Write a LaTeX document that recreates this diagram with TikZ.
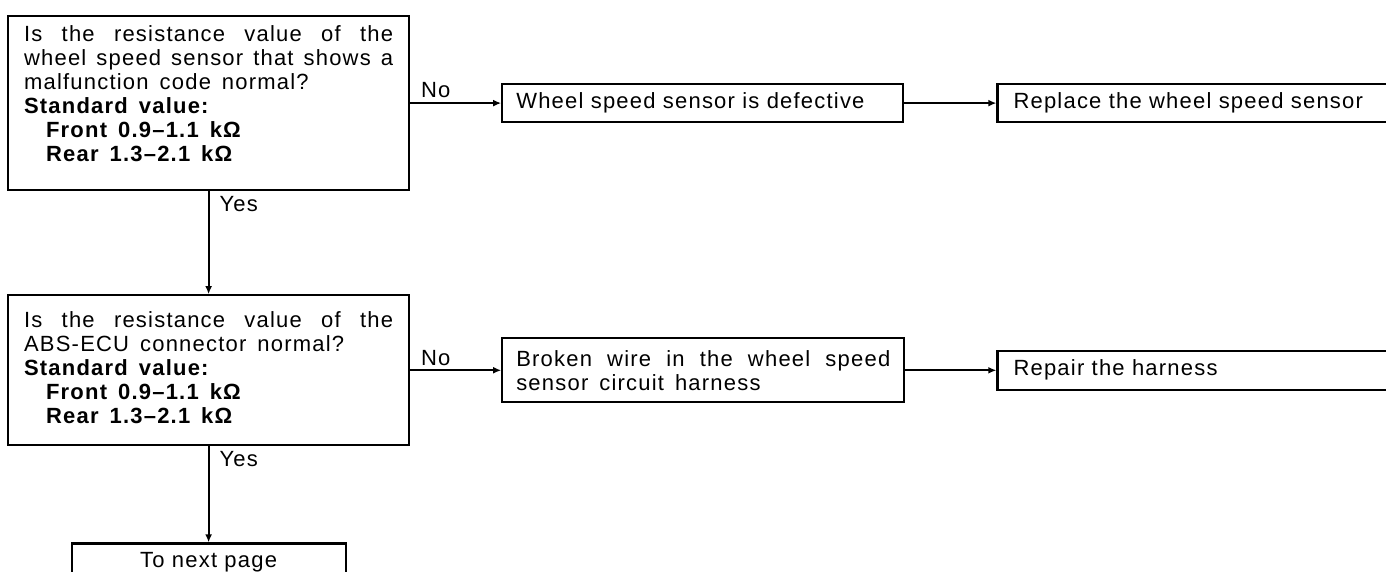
\documentclass[tikz,border=0pt]{standalone}
\usepackage{fontspec}
\setmainfont{Liberation Sans}[LetterSpace=5.5, WordSpace=1.5]
\usetikzlibrary{arrows.meta, positioning}

\begin{document}
\begin{tikzpicture}[
  node distance=51.5pt and 45.5pt,
  every node/.style={font=\fontsize{11}{12}\selectfont, inner sep=2pt},
  chartbox/.style={draw, line width=1.1pt, inner xsep=7pt, inner ysep=0pt},
  arr/.style={-{Latex[length=4pt,width=3.4pt]}, line width=0.9pt},
  lbl/.style={inner sep=2pt}
]
\useasboundingbox (0,0) rectangle (693pt,-286pt);
\clip (0,0) rectangle (693pt,-286pt);

\node (q1) [chartbox, anchor=north west, minimum height=87pt, text width=184.5pt,
  inner xsep=8pt, align=justify] at (3.5pt,-7.5pt)
  {\noindent Is the resistance value of the\linebreak
   wheel speed sensor that shows a\linebreak
   malfunction code normal?\\
   \textbf{Standard value:}\\
   \textbf{\hspace*{1em}Front 0.9–1.1 kΩ}\\
   \textbf{\hspace*{1em}Rear 1.3–2.1 kΩ}\par\kern9pt};
\node (fault1) [chartbox, right=of q1, minimum height=19pt, text width=186.5pt,
  align=left] {Wheel speed sensor is defective};
\node (fix1) [chartbox, right=46pt of fault1, minimum height=19pt, text width=198pt,
  inner xsep=8pt, align=left] {Replace the wheel speed sensor};
\node (q2) [chartbox, below=of q1, minimum height=75pt, text width=184.5pt,
  inner xsep=8pt, align=justify]
  {\noindent Is the resistance value of the\linebreak
   ABS-ECU connector normal?\\
   \textbf{Standard value:}\\
   \textbf{\hspace*{1em}Front 0.9–1.1 kΩ}\\
   \textbf{\hspace*{1em}Rear 1.3–2.1 kΩ}\par\kern3pt};
\node (fault2) [chartbox, right=of q2, minimum height=32pt, text width=187pt,
  align=justify] {\noindent Broken wire in the wheel speed\linebreak
  sensor circuit harness};
\node (fix2) [chartbox, right=of fault2, minimum height=19.5pt, text width=198pt,
  inner xsep=8pt, align=left] {Repair the harness};
\node (nextpg) [chartbox, below=48pt of q2, minimum height=19pt, text width=123pt,
  align=center] {To next page};

\draw[arr] (q1) -- node[lbl, pos=0, anchor=south west, xshift=3pt] {No} (fault1);
\draw[arr] (fault1) -- (fix1);
\draw[arr] (q1) -- node[lbl, pos=0, anchor=north west, xshift=3pt] {Yes} (q2);
\draw[arr] (q2) -- node[lbl, pos=0, anchor=south west, xshift=3pt] {No} (fault2);
\draw[arr] (fault2) -- (fix2);
\draw[arr] (q2) -- node[lbl, pos=0, anchor=north west, xshift=3pt] {Yes} (nextpg);
\end{tikzpicture}
\end{document}
